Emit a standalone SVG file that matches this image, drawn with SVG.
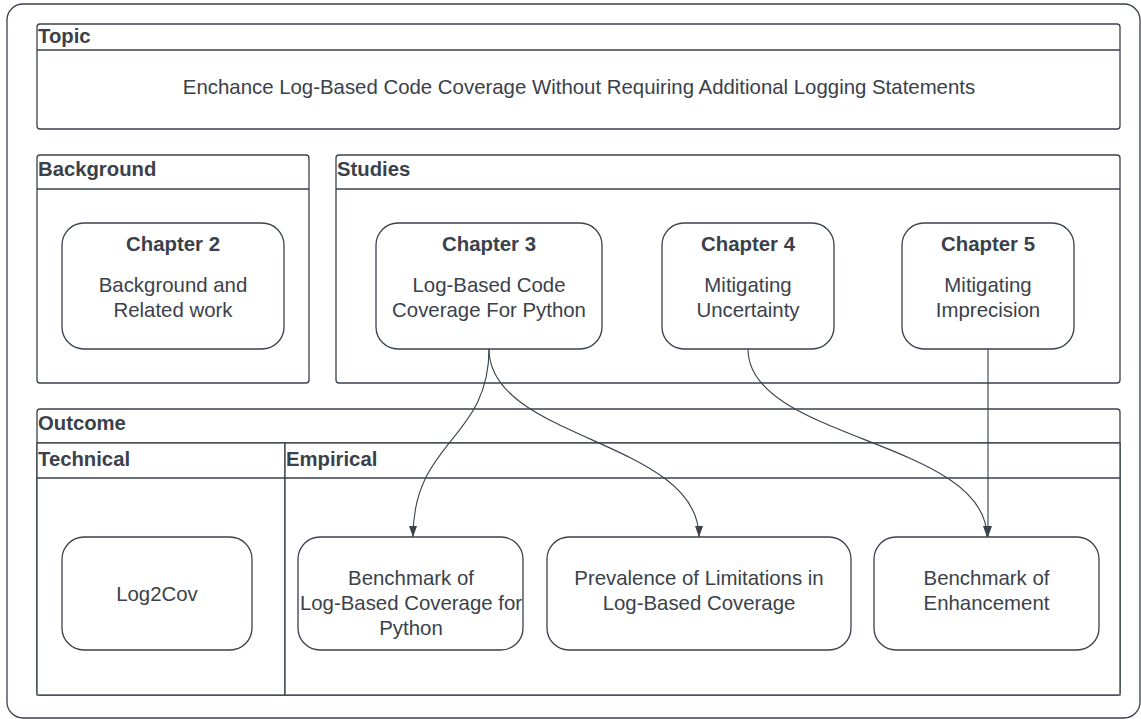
<svg xmlns="http://www.w3.org/2000/svg" width="1141" height="719" viewBox="0 0 1141 719">
<style>
.frame{fill:#fff;stroke:#3a414a;stroke-width:1.3}
.line{stroke:#3a414a;stroke-width:1.3;fill:none}
.node{fill:#fff;stroke:#3a414a;stroke-width:1.3}
.hdr{font-family:"Liberation Sans",Arial,sans-serif;font-weight:bold;font-size:20.3px;fill:#3a414a}
.ch{font-family:"Liberation Sans",Arial,sans-serif;font-weight:bold;font-size:20.4px;fill:#3a414a;text-anchor:middle}
.t{font-family:"Liberation Sans",Arial,sans-serif;font-size:20.4px;fill:#3a414a;text-anchor:middle}
.conn{stroke:#3a414a;stroke-width:1.1;fill:none;marker-end:url(#ah)}
</style>
<defs>
<marker id="ah" viewBox="0 0 11 8" refX="11" refY="4" markerWidth="11" markerHeight="8" markerUnits="userSpaceOnUse" orient="auto">
<path d="M0,0 L11,4 L0,8 Z" fill="#3a414a"/>
</marker>
</defs>
<rect width="1141" height="719" fill="#fff"/>
<rect x="7" y="4" width="1133" height="714" rx="16" class="frame"/>

<g id="topic">
<rect x="37" y="24" width="1083" height="105" rx="3" class="frame"/>
<line x1="37" y1="50" x2="1120" y2="50" class="line"/>
<text x="38" y="43" class="hdr">Topic</text>
<text x="579" y="94" class="t" font-size="20.3">Enchance Log-Based Code Coverage Without Requiring Additional Logging Statements</text>
</g>

<g id="background">
<rect x="37" y="155" width="272" height="228" rx="3" class="frame"/>
<line x1="37" y1="189" x2="309" y2="189" class="line"/>
<text x="38" y="176" class="hdr">Background</text>
</g>

<g id="studies">
<rect x="336" y="155" width="784" height="228" rx="3" class="frame"/>
<line x1="336" y1="189" x2="1120" y2="189" class="line"/>
<text x="337" y="176" class="hdr">Studies</text>
</g>

<g id="outcome">
<rect x="37" y="409" width="1083" height="286" rx="3" class="frame"/>
<line x1="37" y1="443" x2="1120" y2="443" class="line"/>
<text x="38" y="430" class="hdr">Outcome</text>
</g>

<g id="technical">
<rect x="37" y="443" width="248" height="252" class="frame" fill="none"/>
<line x1="37" y1="478" x2="285" y2="478" class="line"/>
<text x="38" y="466" class="hdr">Technical</text>
</g>

<g id="empirical">
<rect x="285" y="443" width="835" height="252" class="frame" fill="none"/>
<line x1="285" y1="478" x2="1120" y2="478" class="line"/>
<text x="286" y="466" class="hdr">Empirical</text>
</g>

<g id="chapter2">
<rect x="62" y="223" width="222" height="126" rx="22" class="node"/>
<text x="173" y="250.5" class="ch">Chapter 2</text>
<text x="173" y="292" class="t">Background and</text>
<text x="173" y="317" class="t">Related work</text>
</g>

<g id="chapter3">
<rect x="376" y="223" width="226" height="126" rx="22" class="node"/>
<text x="489" y="250.5" class="ch">Chapter 3</text>
<text x="489" y="292" class="t">Log-Based Code</text>
<text x="489" y="317" class="t">Coverage For Python</text>
</g>

<g id="chapter4">
<rect x="662" y="223" width="172" height="126" rx="22" class="node"/>
<text x="748" y="250.5" class="ch">Chapter 4</text>
<text x="748" y="292" class="t">Mitigating</text>
<text x="748" y="317" class="t">Uncertainty</text>
</g>

<g id="chapter5">
<rect x="902" y="223" width="172" height="126" rx="22" class="node"/>
<text x="988" y="250.5" class="ch">Chapter 5</text>
<text x="988" y="292" class="t">Mitigating</text>
<text x="988" y="317" class="t">Imprecision</text>
</g>

<g id="log2cov">
<rect x="62" y="537" width="190" height="113" rx="22" class="node"/>
<text x="157" y="601" class="t">Log2Cov</text>
</g>

<g id="benchmark-python">
<rect x="298" y="537" width="225" height="113" rx="22" class="node"/>
<text x="411" y="585" class="t">Benchmark of</text>
<text x="411" y="610" class="t">Log-Based Coverage for</text>
<text x="411" y="635" class="t">Python</text>
</g>

<g id="prevalence">
<rect x="547" y="537" width="304" height="113" rx="22" class="node"/>
<text x="699" y="585" class="t">Prevalence of Limitations in</text>
<text x="699" y="610" class="t">Log-Based Coverage</text>
</g>

<g id="benchmark-enhancement">
<rect x="874" y="537" width="225" height="113" rx="22" class="node"/>
<text x="986.5" y="585" class="t">Benchmark of</text>
<text x="986.5" y="610" class="t">Enhancement</text>
</g>

<g id="connectors">
<path d="M489,349 C489,440 413,440 413,537" class="conn"/>
<path d="M489,349 C489,440 699,440 699,537" class="conn"/>
<path d="M748,349 C748,440 987,440 987,537" class="conn"/>
<path d="M988,349 L988,537" class="conn"/>
</g>
</svg>
